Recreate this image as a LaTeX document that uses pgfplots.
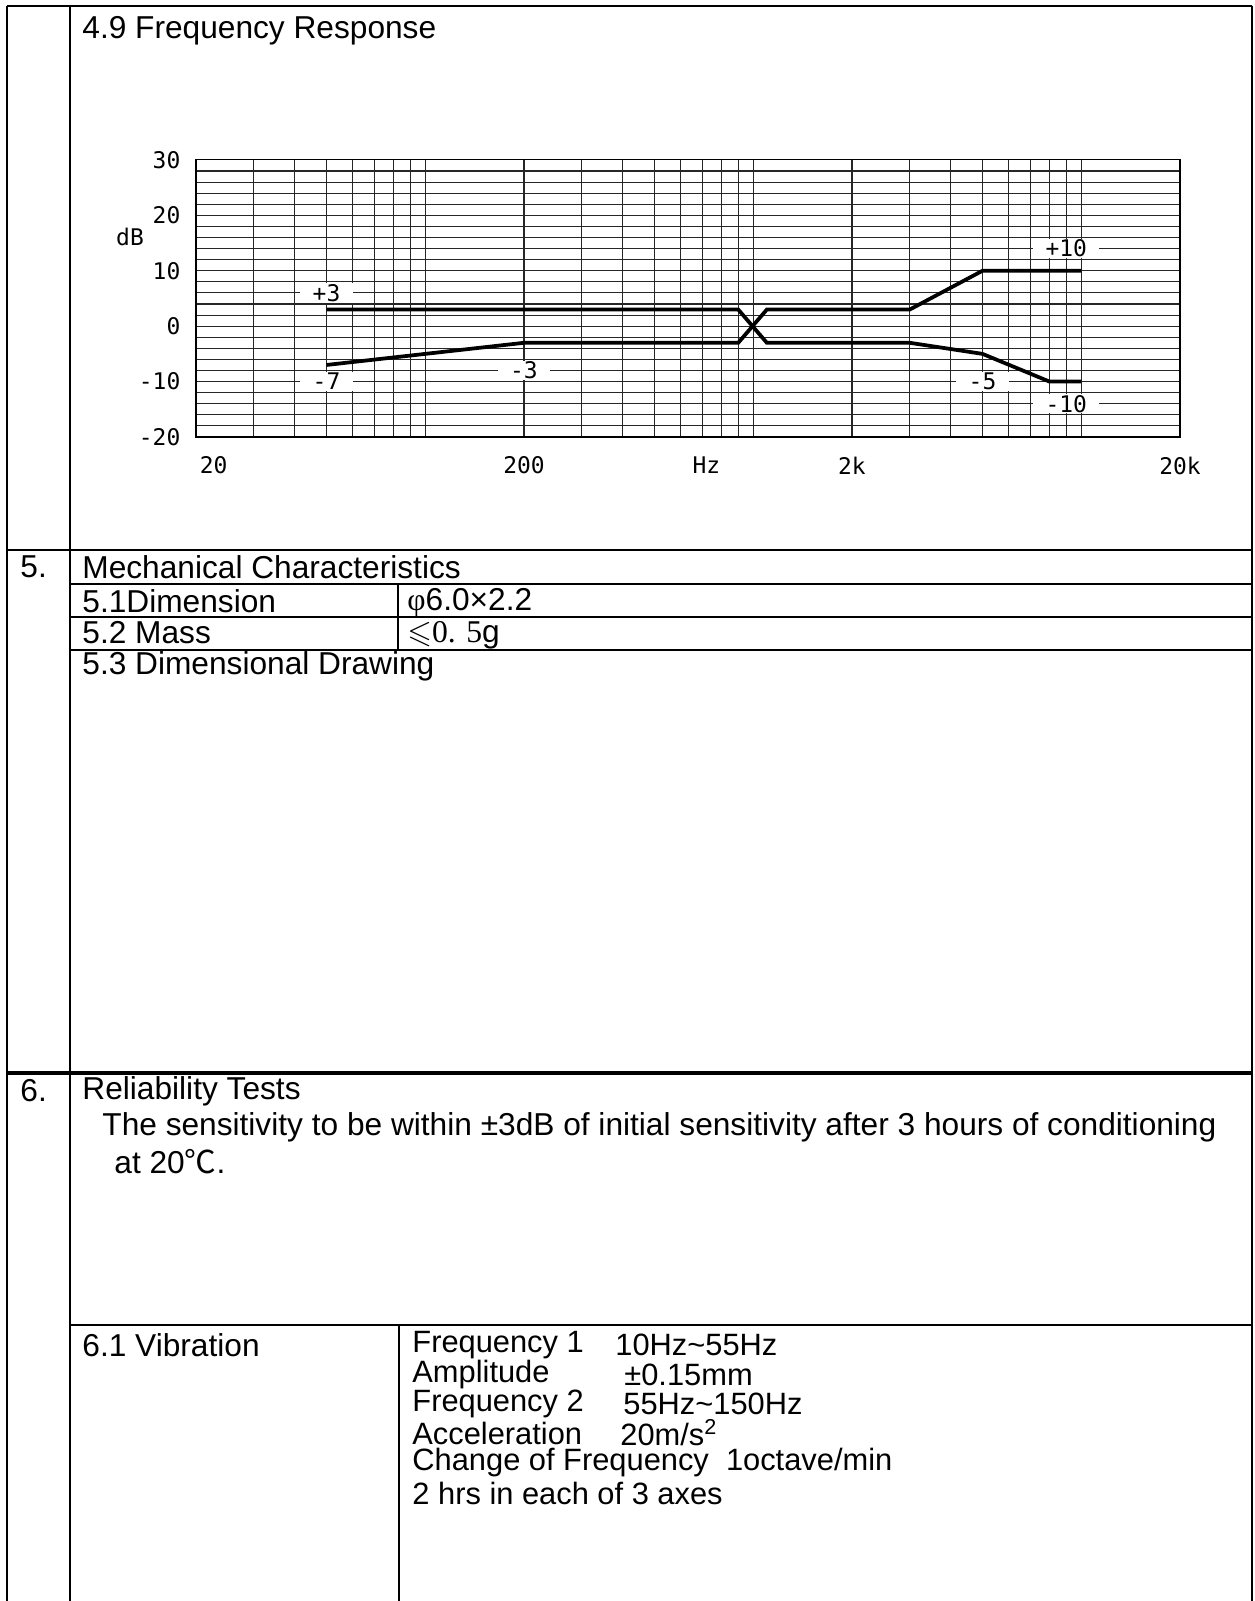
\documentclass[border=0pt]{standalone}
\usepackage{amssymb}
\usepackage{fontspec}
\usepackage{pgfplots}
\pgfplotsset{compat=1.18}
\setmainfont{Liberation Sans}
\newfontfamily\plotfont{DejaVu Sans Mono}
\newfontfamily\seriffont{Liberation Serif}
\newfontfamily\cjk{Noto Sans CJK SC}

% 1 px of the reference = 0.48pt
\def\body{\fontsize{15.2}{17}\selectfont}
\def\small{\fontsize{14.8}{16}\selectfont}
\def\pf{\plotfont\fontsize{11}{11}\selectfont}

\begin{document}
\begin{tikzpicture}[x=0.48pt,y=-0.48pt]
\path[use as bounding box] (0,0) rectangle (1254,1601);

% table frame
\draw[line width=0.96pt] (7,6) -- (1252,6);
\draw[line width=0.96pt] (7,6) -- (7,1601);
\draw[line width=0.96pt] (70,6) -- (70,1601);
\draw[line width=0.96pt] (1252,6) -- (1252,1601);
\draw[line width=0.96pt] (7,550) -- (1252,550);
\draw[line width=0.72pt] (70,584) -- (1252,584);
\draw[line width=0.72pt] (70,617) -- (1252,617);
\draw[line width=0.72pt] (70,650) -- (1252,650);
\draw[line width=0.72pt] (398,584) -- (398,650);
\draw[line width=1.9pt] (7,1073) -- (1252,1073);
\draw[line width=0.96pt] (70,1325) -- (1252,1325);
\draw[line width=0.96pt] (399,1325) -- (399,1601);

% table text
\begin{scope}[every node/.style={anchor=west,inner sep=0pt,font=\body}]
\node at (82,31) {4.9 Frequency Response};
\node at (20,567) {5.};
\node at (82,567) {Mechanical Characteristics};
\node at (82,601) {5.1Dimension};
\node at (407,603) {{\seriffont φ}6.0×2.2};
\node at (82,633) {5.2 Mass};
\node at (407,635) {$\leqslant${\seriffont 0. 5}g};
\node at (82,666) {5.3 Dimensional Drawing};
\node at (20,1091) {6.};
\node at (82,1091) {Reliability Tests};
\node at (102,1127) {The sensitivity to be within ±3dB of initial sensitivity after 3 hours of conditioning};
\node at (114,1162) {at 20{\cjk ℃}.};
\node at (82,1345) {6.1 Vibration};
\end{scope}
\begin{scope}[every node/.style={anchor=west,inner sep=0pt,font=\small}]
\node at (412,1345) {Frequency 1};
\node at (615,1345) {10Hz\textasciitilde 55Hz};
\node at (412,1375) {Amplitude};
\node at (624,1375) {±0.15mm};
\node at (412,1404) {Frequency 2};
\node at (623,1404) {55Hz\textasciitilde 150Hz};
\node at (412,1433) {Acceleration};
\node at (620,1433) {20m/s\textsuperscript{2}};
\node at (412,1463) {Change of Frequency\ \ 1octave/min};
\node at (412,1493) {2 hrs in each of 3 axes};
\end{scope}

% chart
\node[font=\pf,anchor=center] at (130,237) {dB};
\begin{axis}[
    at={(196*0.48pt,-437*0.48pt)}, anchor=south west,
    scale only axis, width=472.3pt, height=133pt,
    xmode=log, xmin=20, xmax=20000, ymin=-20, ymax=30,
    xtick={20,200,2000,20000},
    xticklabels={\makebox[0pt][l]{\,20},200,2k,20k},
    minor xtick={30,40,50,60,70,80,90,100,300,400,500,600,700,800,900,1000,
                 3000,4000,5000,6000,7000,8000,9000,10000},
    ytick={-20,-10,0,10,20,30},
    yticklabels={-20,-10,0,10,20,30},
    minor ytick={-18,-16,...,28},
    grid=both,
    major grid style={black!85,line width=0.5pt},
    minor grid style={black!85,line width=0.5pt},
    major tick length=0pt, minor tick length=0pt,
    axis line style={black,line width=0.5pt},
    tick label style={font=\pf},
    xticklabel style={yshift=-6pt},
    yticklabel style={xshift=-4pt},
    clip=false,
    /pgf/number format/assume math mode=true,
  ]
  \addplot[black,line width=1.8pt,mark=none] coordinates {
    (50,3) (900,3) (1100,-3) (3000,-3) (5000,-5) (8000,-10) (10000,-10)
  };
  \addplot[black,line width=1.8pt,mark=none] coordinates {
    (50,-7) (200,-3) (900,-3) (1100,3) (3000,3) (5000,10) (10000,10)
  };
  \node[font=\pf,anchor=north,yshift=-6pt,inner sep=0.333em] at (axis cs:720,-20) {Hz};
  \begin{scope}[every node/.style={fill=white,font=\pf,inner xsep=6pt,inner ysep=0.5pt}]
  \node at (axis cs:50,6) {+3};
  \node at (axis cs:50,-10) {-7};
  \node at (axis cs:200,-8) {-3};
  \node at (axis cs:9000,14) {+10};
  \node at (axis cs:5000,-10) {-5};
  \node at (axis cs:9000,-14) {-10};
  \end{scope}
\end{axis}
\end{tikzpicture}
\end{document}
